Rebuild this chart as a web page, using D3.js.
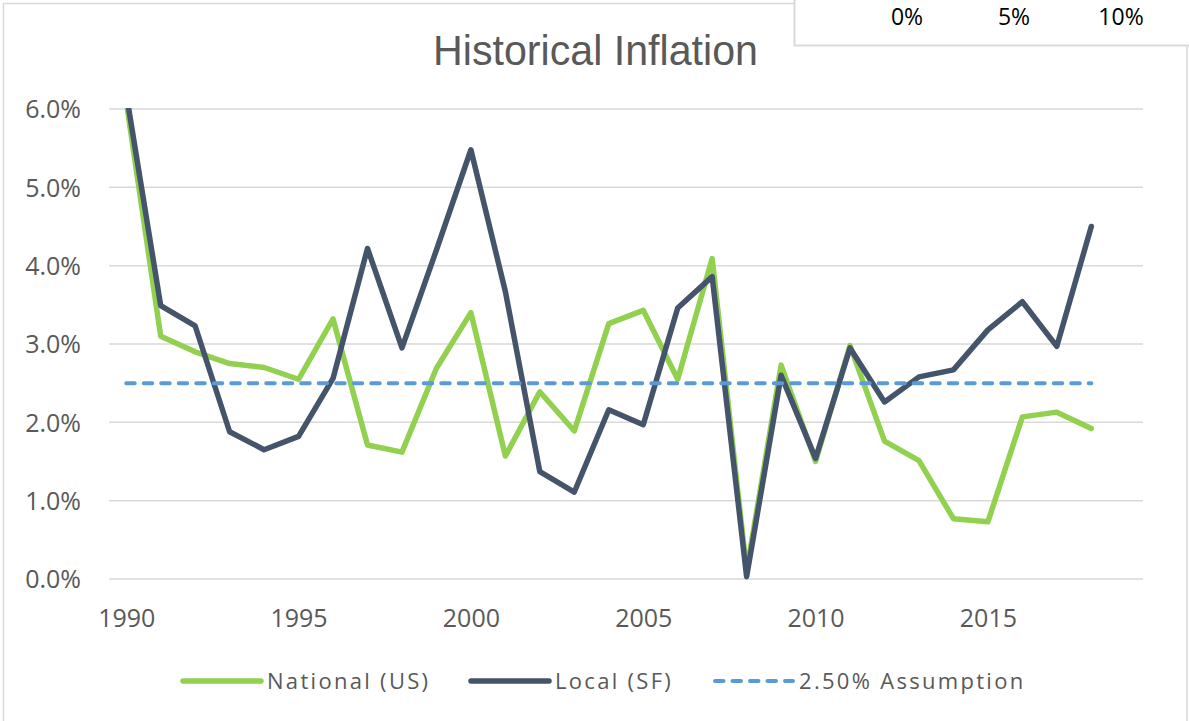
<!DOCTYPE html>
<html>
<head>
<meta charset="utf-8">
<script src="https://cdn.jsdelivr.net/npm/d3@7"></script>
<style>
    html, body { margin: 0; padding: 0; background: #fff; }
    svg { display: block; }
</style>
</head>
<body>
<script>
// data (percent values)
const years = d3.range(1990, 2019);
const national = [6.1, 3.1, 2.9, 2.75, 2.7, 2.55, 3.32, 1.71, 1.62, 2.69, 3.4, 1.57, 2.39, 1.89, 3.26, 3.43, 2.55, 4.09, 0.1, 2.73, 1.5, 2.98, 1.76, 1.51, 0.77, 0.73, 2.07, 2.13, 1.92];
const local = [6.2, 3.49, 3.23, 1.88, 1.65, 1.82, 2.56, 4.22, 2.95, 4.2, 5.48, 3.67, 1.37, 1.11, 2.16, 1.97, 3.46, 3.86, 0.03, 2.6, 1.54, 2.95, 2.26, 2.58, 2.67, 3.18, 3.54, 2.97, 4.5];
const assumption = years.map(() => 2.5);
const yTicks = [0, 1, 2, 3, 4, 5, 6];
const xTicks = [1990, 1995, 2000, 2005, 2010, 2015];
const cornerTicks = ["0%", "5%", "10%"];
const seriesNames = ["National (US)", "Local (SF)", "2.50% Assumption"];

const W = 1189, H = 721;
const plot = {left: 109, right: 1143, top: 109, bottom: 579};

const textColor = "#595959",
    gridColor = "#d9d9d9",
    green = "#92d050",
    navy = "#44546a",
    blue = "#5b9bd5";

const svg = d3.select("body").append("svg")
    .attr("width", W)
    .attr("height", H);

// chart border
svg.append("rect")
    .attr("x", 3.5).attr("y", 3.5)
    .attr("width", 1183.5).attr("height", 722)
    .attr("fill", "#fff")
    .attr("stroke", gridColor)
    .attr("stroke-width", 1.5);

// scales
const x = d3.scaleLinear()
    .domain([1989.5, 2019.5])
    .range([plot.left, plot.right]);

const y = d3.scaleLinear()
    .domain([0, 6])
    .range([plot.bottom, plot.top]);

// gridlines
svg.append("g")
    .selectAll("line")
    .data(yTicks)
    .enter().append("line")
    .attr("x1", plot.left)
    .attr("x2", plot.right)
    .attr("y1", d => y(d))
    .attr("y2", d => y(d))
    .attr("stroke", gridColor)
    .attr("stroke-width", 1.5);

// y axis labels
const yAxis = svg.append("g")
    .attr("transform", "translate(" + (plot.left - 28) + ",0)")
    .call(d3.axisLeft(y).tickValues(yTicks).tickSize(0).tickPadding(0)
        .tickFormat(d => d.toFixed(1) + "%"));
yAxis.select(".domain").remove();
yAxis.selectAll("text")
    .attr("font-family", "Open Sans")
    .attr("font-size", 25)
    .attr("fill", textColor)
    .attr("dy", "0.35em");

// x axis labels
const xAxis = svg.append("g")
    .attr("transform", "translate(0," + (plot.bottom + 30) + ")")
    .call(d3.axisBottom(x).tickValues(xTicks).tickSize(0).tickPadding(0)
        .tickFormat(d3.format("d")));
xAxis.select(".domain").remove();
xAxis.selectAll("text")
    .attr("font-family", "Open Sans")
    .attr("font-size", 25)
    .attr("fill", textColor)
    .attr("dy", "0.71em");

// title
svg.append("text")
    .attr("x", 595.5)
    .attr("y", 65)
    .attr("text-anchor", "middle")
    .attr("font-family", "Liberation Sans")
    .attr("font-size", 42)
    .attr("fill", textColor)
    .attr("textLength", 325)
    .attr("lengthAdjust", "spacingAndGlyphs")
    .text("Historical Inflation");

// clip lines to the plot area
svg.append("clipPath")
    .attr("id", "plotclip")
    .append("rect")
    .attr("x", plot.left)
    .attr("y", plot.top - 1)
    .attr("width", plot.right - plot.left)
    .attr("height", plot.bottom - plot.top + 5);

const line = d3.line()
    .x((d, i) => x(years[i]))
    .y(d => y(d));

const lines = svg.append("g").attr("clip-path", "url(#plotclip)");

const series = [
    {name: seriesNames[0], values: national, color: green, dash: null, width: 5.5},
    {name: seriesNames[1], values: local, color: navy, dash: null, width: 5.5},
    {name: seriesNames[2], values: assumption, color: blue, dash: "8.5 9", width: 4}
];

lines.selectAll("path")
    .data(series)
    .enter().append("path")
    .attr("d", d => line(d.values))
    .attr("fill", "none")
    .attr("stroke", d => d.color)
    .attr("stroke-width", d => d.width)
    .attr("stroke-linejoin", "round")
    .attr("stroke-linecap", "round")
    .attr("stroke-dasharray", d => d.dash);

// legend
const legendX = [181, 469, 713];
const legend = svg.append("g")
    .selectAll("g")
    .data(series)
    .enter().append("g")
    .attr("transform", (d, i) => "translate(" + legendX[i] + ",681)");

legend.append("line")
    .attr("x1", 2).attr("x2", 80)
    .attr("stroke", d => d.color)
    .attr("stroke-width", d => d.width)
    .attr("stroke-linecap", "round")
    .attr("stroke-dasharray", d => d.dash);

legend.append("text")
    .attr("x", 86)
    .attr("dy", "0.36em")
    .attr("font-family", "Open Sans")
    .attr("font-size", 22)
    .attr("letter-spacing", 2.3)
    .attr("fill", textColor)
    .text(d => d.name);

// box in the top right corner
svg.append("rect")
    .attr("x", 794.5).attr("y", -5)
    .attr("width", 400).attr("height", 50.5)
    .attr("fill", "#fff")
    .attr("stroke", gridColor)
    .attr("stroke-width", 2);

const cornerX = [907, 1014, 1121];
svg.append("g")
    .selectAll("text")
    .data(cornerTicks)
    .enter().append("text")
    .attr("x", (d, i) => cornerX[i])
    .attr("y", 25)
    .attr("text-anchor", "middle")
    .attr("font-family", "Open Sans")
    .attr("font-size", 23)
    .attr("fill", "#000")
    .text(d => d);
</script>
</body>
</html>
